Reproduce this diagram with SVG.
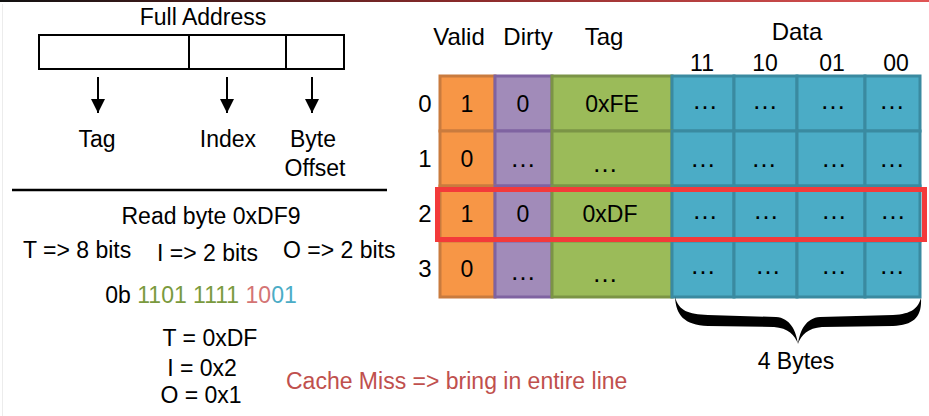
<svg xmlns="http://www.w3.org/2000/svg" width="929" height="416" viewBox="0 0 929 416">
<defs>
<linearGradient id="topbar" x1="0" y1="0" x2="1" y2="0">
<stop offset="0" stop-color="#111"/>
<stop offset="0.5" stop-color="#8a2a2a"/>
<stop offset="1" stop-color="#e05555"/>
</linearGradient>
<marker id="ah" markerUnits="userSpaceOnUse" markerWidth="16" markerHeight="16" refX="14" refY="7" orient="auto">
<path d="M0,0 L14,7 L0,14 Z" fill="#000"/>
</marker>
<style>
text{font-family:"Liberation Sans",Arial,sans-serif;font-size:23px;fill:#000}
.c{text-anchor:middle}
.hd{font-size:24px}
.dots{font-size:26px}
.v{fill:#f79646;stroke:#c97b3e;stroke-width:3}
.d{fill:#a18bb9;stroke:#7f63a1;stroke-width:3}
.t{fill:#9bbb59;stroke:#7b9446;stroke-width:3}
.b{fill:#4bacc6;stroke:#3a8aa0;stroke-width:3}
.box{fill:#fff;stroke:#000;stroke-width:2}
.conn{stroke:#000;stroke-width:2;fill:none}
.red{fill:#c0504d}
</style>
</defs>
<rect x="0" y="0" width="929" height="416" fill="#fff"/>
<rect x="0" y="0" width="929" height="2" fill="url(#topbar)"/>
<line x1="2.5" y1="4" x2="2.5" y2="416" stroke="#ececec" stroke-width="1"/>

<g id="address">
<text class="c" x="203" y="25">Full Address</text>
<rect class="box" x="39" y="35" width="305" height="34"/>
<line class="conn" x1="189" y1="35" x2="189" y2="69"/>
<line class="conn" x1="286" y1="35" x2="286" y2="69"/>
</g>
<g id="connectors">
<line class="conn" x1="98" y1="77" x2="98" y2="113" marker-end="url(#ah)"/>
<line class="conn" x1="227" y1="77" x2="227" y2="113" marker-end="url(#ah)"/>
<line class="conn" x1="312" y1="77" x2="312" y2="113" marker-end="url(#ah)"/>
</g>
<g id="label-tag"><text class="c" x="97" y="147">Tag</text></g>
<g id="label-index"><text class="c" x="228" y="147">Index</text></g>
<g id="label-offset"><text class="c" x="313" y="147">Byte</text><text class="c" x="315" y="176">Offset</text></g>
<line x1="12" y1="190" x2="387" y2="190" stroke="#000" stroke-width="2.5"/>

<g id="calc">
<text class="c" x="211" y="224">Read byte 0xDF9</text>
<text x="23" y="258">T =&gt; 8 bits</text>
<text x="157" y="261">I =&gt; 2 bits</text>
<text x="283" y="258">O =&gt; 2 bits</text>
<text class="c" x="201" y="303">0b <tspan fill="#7a9a3e">1101 1111</tspan> <tspan fill="#d47474">10</tspan><tspan fill="#4bacc6">01</tspan></text>
<text class="c" x="210" y="346">T = 0xDF</text>
<text class="c" x="202" y="376">I = 0x2</text>
<text class="c" x="201" y="403">O = 0x1</text>
</g>
<g id="miss"><text class="red" x="286" y="389">Cache Miss =&gt; bring in entire line</text></g>

<g id="headers">
<text class="c hd" x="459" y="45">Valid</text>
<text class="c hd" x="528" y="45">Dirty</text>
<text class="c hd" x="604" y="45">Tag</text>
<text class="c hd" x="797" y="40">Data</text>
<text class="c" x="702" y="71">11</text>
<text class="c" x="765" y="71">10</text>
<text class="c" x="832" y="71">01</text>
<text class="c" x="896" y="71">00</text>
</g>

<g id="row0">
<text class="c hd" x="425" y="112">0</text>
<rect class="v" x="440" y="76" width="55" height="55"/>
<rect class="d" x="495" y="76" width="57" height="55"/>
<rect class="t" x="552" y="76" width="120" height="55"/>
<rect class="b" x="672" y="76" width="62" height="55"/>
<rect class="b" x="734" y="76" width="63" height="55"/>
<rect class="b" x="797" y="76" width="68" height="55"/>
<rect class="b" x="865" y="76" width="55" height="55"/>
<text class="c" x="467" y="112">1</text>
<text class="c" x="523" y="112">0</text>
<text class="c" x="612" y="112">0xFE</text>
<text class="c dots" x="705" y="109">…</text>
<text class="c dots" x="765" y="109">…</text>
<text class="c dots" x="833" y="109">…</text>
<text class="c dots" x="892" y="109">…</text>
</g>

<g id="row1">
<text class="c hd" x="425" y="167">1</text>
<rect class="v" x="440" y="131" width="55" height="55"/>
<rect class="d" x="495" y="131" width="57" height="55"/>
<rect class="t" x="552" y="131" width="120" height="55"/>
<rect class="b" x="672" y="131" width="62" height="55"/>
<rect class="b" x="734" y="131" width="63" height="55"/>
<rect class="b" x="797" y="131" width="68" height="55"/>
<rect class="b" x="865" y="131" width="55" height="55"/>
<text class="c" x="467" y="167">0</text>
<text class="c dots" x="523" y="167">…</text>
<text class="c dots" x="605" y="172">…</text>
<text class="c dots" x="703" y="167">…</text>
<text class="c dots" x="764" y="167">…</text>
<text class="c dots" x="834" y="167">…</text>
<text class="c dots" x="892" y="167">…</text>
</g>

<g id="row2">
<text class="c hd" x="425" y="222">2</text>
<rect class="v" x="440" y="186" width="55" height="55"/>
<rect class="d" x="495" y="186" width="57" height="55"/>
<rect class="t" x="552" y="186" width="120" height="55"/>
<rect class="b" x="672" y="186" width="62" height="55"/>
<rect class="b" x="734" y="186" width="63" height="55"/>
<rect class="b" x="797" y="186" width="68" height="55"/>
<rect class="b" x="865" y="186" width="55" height="55"/>
<text class="c" x="467" y="222">1</text>
<text class="c" x="523" y="222">0</text>
<text class="c" x="610" y="222">0xDF</text>
<text class="c dots" x="705" y="219">…</text>
<text class="c dots" x="766" y="219">…</text>
<text class="c dots" x="834" y="219">…</text>
<text class="c dots" x="893" y="219">…</text>
</g>

<g id="row3">
<text class="c hd" x="425" y="277">3</text>
<rect class="v" x="440" y="241" width="55" height="56"/>
<rect class="d" x="495" y="241" width="57" height="56"/>
<rect class="t" x="552" y="241" width="120" height="56"/>
<rect class="b" x="672" y="241" width="62" height="56"/>
<rect class="b" x="734" y="241" width="63" height="56"/>
<rect class="b" x="797" y="241" width="68" height="56"/>
<rect class="b" x="865" y="241" width="55" height="56"/>
<text class="c" x="467" y="277">0</text>
<text class="c dots" x="523" y="280">…</text>
<text class="c dots" x="605" y="282">…</text>
<text class="c dots" x="703" y="274">…</text>
<text class="c dots" x="768" y="274">…</text>
<text class="c dots" x="834" y="274">…</text>
<text class="c dots" x="892" y="274">…</text>
</g>

<g id="highlight">
<rect x="437.5" y="189.5" width="487" height="50" fill="none" stroke="#f33a3a" stroke-width="5"/>
</g>

<g id="brace">
<path d="M675,297 C679,311 688,314 708,315 L776,317 C790,318 796,330 798,344 C800,330 806,318 820,317 L893,315 C912,314 918,308 921,298 C922,317 914,325 893,326 L822,327 C808,328 801,335 798,344 C795,335 788,328 774,327 L708,326 C684,325 676,315 675,297 Z" fill="#000"/>
<text class="c" x="796" y="369">4 Bytes</text>
</g>
</svg>
